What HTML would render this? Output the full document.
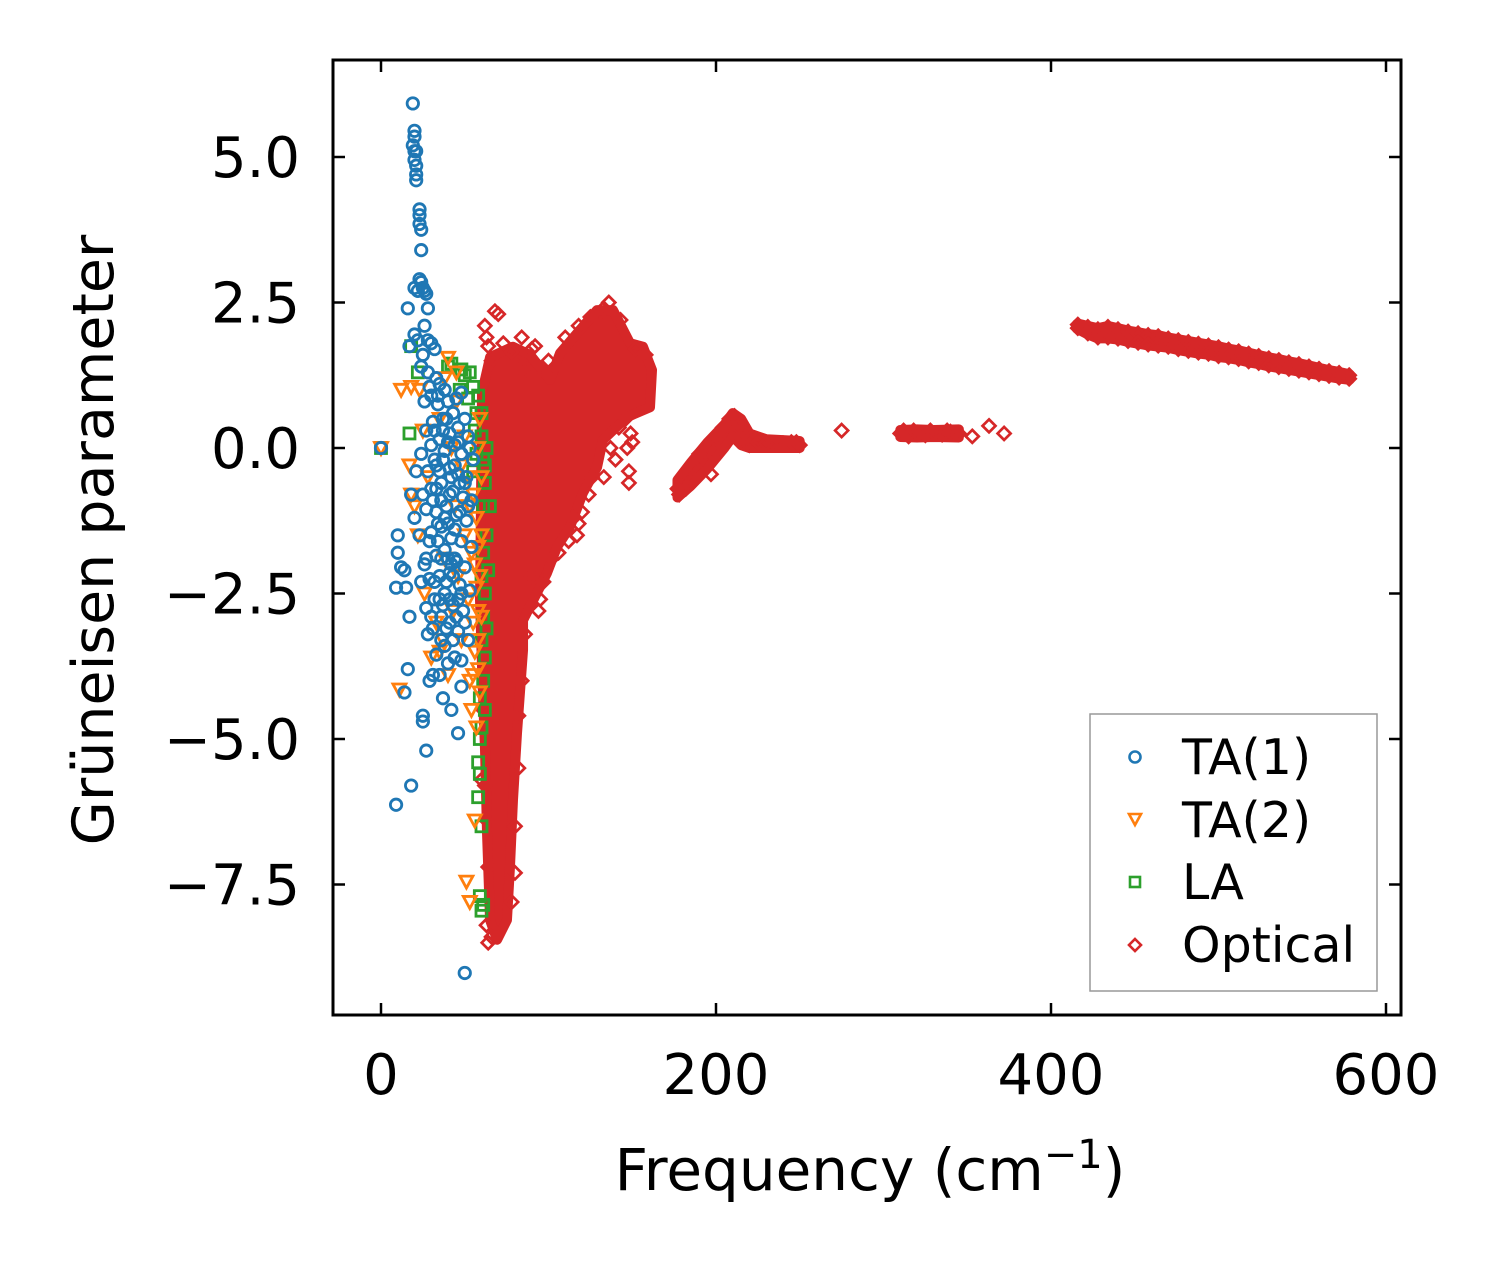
<!DOCTYPE html>
<html><head><meta charset="utf-8"><style>
html,body{margin:0;padding:0;background:#fff;}
svg{display:block;font-family:"DejaVu Sans","Liberation Sans",sans-serif;}
</style></head><body>
<svg id="chart" width="1501" height="1264" viewBox="0 0 1501 1264" xmlns="http://www.w3.org/2000/svg">
<rect width="1501" height="1264" fill="#fff"/>
<g id="marks"></g>
<rect x="333" y="60" width="1068" height="955" fill="none" stroke="#000" stroke-width="3"/>
<g id="axes"></g>
<text x="870" y="1190" font-size="58" text-anchor="middle">Frequency (cm<tspan dy="-22" font-size="40">−1</tspan><tspan dy="22">)</tspan></text>
<text transform="translate(113,540) rotate(-90)" font-size="57" text-anchor="middle">Grüneisen parameter</text>
<g>
<rect x="1090" y="714" width="287" height="277" fill="#fff" stroke="#999" stroke-width="1.5"/>
<circle cx="1135" cy="757" r="5.5" fill="none" stroke="#1f77b4" stroke-width="2.6"/>
<text x="1182" y="774" font-size="49">TA(1)</text>
<polygon points="1129,814 1141,814 1135,825" fill="none" stroke="#ff7f0e" stroke-width="2.6"/>
<text x="1182" y="837" font-size="49">TA(2)</text>
<rect x="1130" y="877" width="10" height="10" fill="none" stroke="#2ca02c" stroke-width="2.6"/>
<text x="1182" y="899" font-size="49">LA</text>
<polygon points="1135,939 1141,945 1135,951 1129,945" fill="none" stroke="#d62728" stroke-width="2.6"/>
<text x="1182" y="962" font-size="49">Optical</text>
</g>
</svg>
<script>
const xTicks=[0,200,400,600];
const xTickLabels=["0","200","400","600"];
const yTicks=[5,2.5,0,-2.5,-5,-7.5];
const yTickLabels=["5.0","2.5","0.0","−2.5","−5.0","−7.5"];
const ta1Pts=[[0,0],[19,5.92],[20,5.45],[20,5.35],[19,5.2],[20,5.1],[21,5.1],[20,4.95],[21,4.85],[21,4.7],[21,4.6],[23,4.1],[23,4.0],[23,3.85],[24,3.75],[24,3.4],[23,2.9],[24,2.85],[25,2.75],[26,2.7],[27,2.65],[22,2.7],[20,2.75],[16,2.4],[28,2.4],[26,2.1],[20,1.95],[22,1.85],[28,1.85],[30,1.8],[17,1.75],[25,1.6],[32,1.7],
[24,1.4],[28,1.3],[33,1.2],[29,1.05],[35,1.1],[38,1.0],[30,0.9],[26,0.8],[34,0.75],[40,0.8],[45,0.85],[48,0.95],[43,0.6],[37,0.5],[31,0.45],[27,0.3],[50,0.5],[46,0.35],[52,0.2],[41,0.25],[35,0.15],[30,0.05],[24,-0.1],[38,-0.05],[44,0.05],[48,-0.1],[53,0.0],[55,-0.2],[33,-0.3],[28,-0.4],[41,-0.35],[46,-0.45],[51,-0.5],[36,-0.6],[30,-0.7],[25,-0.8],[43,-0.75],[49,-0.85],[54,-0.9],[39,-1.0],[33,-1.1],[27,-1.05],[45,-1.15],[51,-1.25],[36,-1.35],[30,-1.45],[23,-1.5],[42,-1.55],[48,-1.6],[54,-1.7],[38,-1.75],[33,-1.85],[27,-1.9],[45,-1.95],[50,-2.05],[41,-2.15],[35,-2.2],[29,-2.25],[24,-2.3],[47,-2.35],[53,-2.45],[38,-2.5],[32,-2.6],[43,-2.7],[49,-2.8],[27,-2.75],[36,-2.9],[41,-3.0],[31,-3.1],[46,-3.15],[52,-3.3],[38,-3.4],[33,-3.55],[44,-3.6],[48,-3.65],[40,-3.7],[35,-3.9],[29,-4.0],[37,-4.3],[42,-4.5],[25,-4.6],[25,-4.7],[48,-4.1],
[10,-1.5],[10,-1.8],[12,-2.05],[14,-2.1],[9,-2.4],[15,-2.4],[17,-2.9],[16,-3.8],[14,-4.2],[27,-5.2],[18,-5.8],[9,-6.13],[46,-4.9],[50,-9.02],[18,-0.8],[20,-1.2],[21,-0.4],
[32,-0.2],[36,-0.9],[40,-1.3],[44,-1.9],[39,-2.3],[34,-1.6],[31,-0.9],[37,0.3],[42,-0.5],[47,-1.1],[35,-2.6],[41,-2.6],[45,-2.9],[50,-3.0],[34,0.9],[26,-2.0],[28,-3.2],[31,-3.9],[36,-3.3],
[33,-0.7],[38,-1.2],[42,-2.0],[46,-2.6],[40,0.1],[44,-0.3],[36,-1.9],[29,-1.6],[47,-0.6],[52,-1.0],[39,-3.1],[43,-3.3],[32,-2.3],[35,-0.4],[30,-2.9],
[37,-0.2],[41,-0.8],[44,-1.4],[40,-1.9],[37,-2.7],[43,-2.2],[48,-2.5],[34,-1.3],[39,0.5],[46,0.1],[50,-0.6],[32,0.3]];
const ta2Pts=[[0,0],[12,1.0],[18,1.05],[23,1.0],[40,1.55],[45,1.3],[38,1.2],[17,-0.3],[18,-0.8],[22,-1.5],[20,-1.0],[28,-0.5],[25,0.3],[35,0.5],[42,0.0],[48,-0.3],[52,-0.5],[55,-0.8],[57,-1.2],[58,-1.7],[56,-2.0],[57,-2.4],[58,-2.8],[55,-3.0],[56,-3.5],[58,-3.8],[59,-4.2],[55,-3.9],[50,-1.5],[46,-2.2],[52,-2.6],[44,-1.0],[38,-1.9],[33,-3.0],[35,-3.5],[37,-3.3],[40,-3.9],[30,-3.6],[11,-4.15],[53,-4.0],[54,-4.5],[57,-4.8],[56,-6.4],[51,-7.45],[53,-7.8],[59,0.5],[58,0.0],[60,-0.5],[60,-1.5],[59,-2.2],[58,-3.3],[60,-2.9],[45,0.8],[50,0.2],[53,-1.0],[54,-1.8],[26,-2.5],[43,-2.8],[48,-3.3]];
const laPts=[[0,0],[18,1.75],[17,0.25],[22,1.3],[40,1.4],[42,1.45],[50,1.25],[47,1.0],[55,1.05],[52,0.85],[58,0.9],[60,0.6],[60,0.2],[61,-0.2],[62,-0.6],[61,-1.0],[63,-1.5],[61,-1.8],[60,-2.2],[62,-2.5],[61,-2.9],[60,-3.3],[62,-3.6],[61,-4.0],[59,-4.3],[62,-4.5],[60,-4.8],[59,-5.0],[58,-5.4],[59,-5.6],[58,-6.0],[60,-6.5],[59,-7.7],[61,-7.85],[60,-7.95],[65,-1.0],[64,-2.1],[63,-3.1],[62,-0.3],[63,0.0],[57,-0.1],[55,-0.4],[56,0.3],[53,1.3],[48,1.35],[57,0.6]];
const opticalCloudX=[60.3,65.1,78.8,89,100.9,106.9,129,138.5,148.7,156.4,161.8,160.6,146.9,132.5,129,120.6,112.8,105.1,99.1,93.1,84.8,84.8,81.2,78.8,77.0,75.2,69.3,65.1,63.3,62.1,60.3,59.1,59.7];
const opticalCloudY=[0.95,1.56,1.74,1.6,1.17,1.63,2.37,2.37,1.8,1.74,1.34,0.70,0.53,0.14,-0.33,-0.77,-1.36,-1.70,-2.15,-2.49,-2.96,-3.47,-4.90,-6.05,-7.20,-8.11,-8.45,-8.11,-6.62,-5.19,-3.76,-2.61,-0.89];
const opticalCurveX=[177,185,195,205,210,215,220,230,250];
const opticalCurveHi=[-0.55,-0.25,0.1,0.4,0.6,0.5,0.25,0.15,0.12];
const opticalCurveLo=[-0.85,-0.65,-0.35,0.0,0.2,0.05,0.0,0.0,0.0];
const opticalMidX=[310,320,330,345];
const opticalMidHi=[0.31,0.32,0.31,0.32];
const opticalMidLo=[0.19,0.18,0.19,0.18];
const opticalPts=[[62,2.1],[63,1.9],[64,1.75],[68,2.35],[70,2.3],[66,1.5],[73,1.8],[78,1.65],[84,1.9],[90,1.7],[92,1.75],[82,1.4],[87,1.35],[98,1.3],[130,2.3],[136,2.5],[133,2.4],[146,0.5],[149,0.25],[150,0.1],[148,-0.4],[148,-0.6],[147,0.0],[140,-0.2],[133,-0.5],[124,-0.8],[120,-1.1],[118,-1.3],[117,-1.5],[112,-1.6],[106,-1.8],[95,-2.6],[94,-2.8],[90,-2.2],[64,-7.2],[62,-5.8],[61,-4.5],[60,-5.7],[63,-8.2],[64,-8.5],[66,-8.4],[80,-7.3],[82,-5.5],[63,-6.4],[62,-3.0],
[110,1.9],[118,2.1],[125,2.25],[143,2.2],[152,1.7],[158,1.6],[100,1.5],[104,1.4],[86,-3.2],[84,-4.0],[82,-4.6],[80,-6.5],[78,-7.8],[142,0.35],[137,0.0],[126,-0.5],[115,-1.2],[102,-1.9],[97,-2.3],
[177,-0.7],[178,-0.8],[180,-0.6],[182,-0.7],[183,-0.45],[186,-0.3],[186,-0.55],[190,-0.1],[190,-0.4],[195,0.05],[195,-0.25],[197,-0.45],[200,0.2],[200,-0.05],[204,0.35],[204,0.1],[208,0.5],[211,0.55],[212,0.3],[214,0.4],[216,0.15],[217,0.25],[220,0.15],[220,0.05],[225,0.1],[230,0.08],[235,0.07],[240,0.08],[245,0.1],[248,0.1],[250,0.05],[275,0.3],
[310,0.25],[312,0.3],[315,0.2],[318,0.3],[320,0.25],[325,0.22],[328,0.3],[330,0.25],[335,0.23],[338,0.3],[340,0.28],[345,0.25],[353,0.2],[363,0.38],[372,0.25]];
const opticalBandX=[416,422,428,434,440,446,452,458,464,470,476,482,488,494,500,506,512,518,524,530,536,542,548,554,560,566,572,578];
const opticalBandHi=[2.12,2.08,2.04,2.08,2.04,2.0,1.97,1.94,1.92,1.88,1.85,1.82,1.79,1.76,1.73,1.69,1.66,1.62,1.58,1.54,1.51,1.47,1.44,1.40,1.36,1.32,1.29,1.25];
const opticalBandLo=[2.06,1.97,1.9,1.9,1.88,1.84,1.81,1.78,1.76,1.74,1.7,1.67,1.64,1.62,1.58,1.56,1.53,1.49,1.46,1.42,1.39,1.36,1.33,1.30,1.27,1.24,1.21,1.19];

const X=v=>381+1.675*v, Y=v=>448-58.2*v;
const NS="http://www.w3.org/2000/svg";
const marks=document.getElementById('marks'), axes=document.getElementById('axes');
function mk(tag,attrs,parent){const e=document.createElementNS(NS,tag);for(const k in attrs)e.setAttribute(k,attrs[k]);parent.appendChild(e);return e;}
const R='#d62728';
const cloud=mk('polygon',{points:opticalCloudX.map((x,i)=>X(x)+','+Y(opticalCloudY[i])).join(' '),fill:R,stroke:R,'stroke-width':10,'stroke-linejoin':'round'},marks);


function bandPoly(xs,hi,lo,sw,name){const pts=xs.map((x,i)=>X(x)+','+Y(hi[i])).concat(xs.map((x,i)=>X(x)+','+Y(lo[i])).reverse()).join(' ');
const e=mk('polygon',{points:pts,fill:R,stroke:R,'stroke-width':sw,'stroke-linejoin':'round'},marks);

}
bandPoly(opticalBandX,opticalBandHi,opticalBandLo,12,'optical-high-band');
bandPoly(opticalCurveX,opticalCurveHi,opticalCurveLo,10,'optical-mid-curve');
bandPoly(opticalMidX,opticalMidHi,opticalMidLo,10,'optical-flat-band');
function diamond(x,y,name){const cx=X(x),cy=Y(y);const d=mk('polygon',{points:`${cx},${cy-6.5} ${cx+6.5},${cy} ${cx},${cy+6.5} ${cx-6.5},${cy}`,fill:'none',stroke:R,'stroke-width':2.7},marks);

}
opticalBandX.forEach((x,i)=>{diamond(x,opticalBandHi[i],'optical-point');diamond(x,opticalBandLo[i],'optical-point');});
opticalPts.forEach(p=>diamond(p[0],p[1],'optical-point'));
laPts.forEach(p=>{const e=mk('rect',{x:X(p[0])-5.5,y:Y(p[1])-5.5,width:11,height:11,fill:'none',stroke:'#2ca02c','stroke-width':2.8},marks);

});
ta2Pts.forEach(p=>{const cx=X(p[0]),cy=Y(p[1]);const e=mk('polygon',{points:`${cx-6.5},${cy-5.5} ${cx+6.5},${cy-5.5} ${cx},${cy+6.5}`,fill:'none',stroke:'#ff7f0e','stroke-width':2.8},marks);

});
ta1Pts.forEach(p=>{const e=mk('circle',{cx:X(p[0]),cy:Y(p[1]),r:5.7,fill:'none',stroke:'#1f77b4','stroke-width':2.8},marks);

});
xTicks.forEach((t,i)=>{const x=X(t);
mk('line',{x1:x,y1:1015,x2:x,y2:1003,stroke:'#000','stroke-width':2.5},axes);
mk('line',{x1:x,y1:60,x2:x,y2:72,stroke:'#000','stroke-width':2.5},axes);
const l=mk('text',{x:x,y:1094,'font-size':56,'text-anchor':'middle'},axes);l.textContent=xTickLabels[i];

});
yTicks.forEach((t,i)=>{const y=Y(t);
mk('line',{x1:333,y1:y,x2:345,y2:y,stroke:'#000','stroke-width':2.5},axes);
mk('line',{x1:1401,y1:y,x2:1389,y2:y,stroke:'#000','stroke-width':2.5},axes);
const l=mk('text',{x:300,y:y+20,'font-size':56,'text-anchor':'end'},axes);l.textContent=yTickLabels[i];

});
</script>
</body></html>
